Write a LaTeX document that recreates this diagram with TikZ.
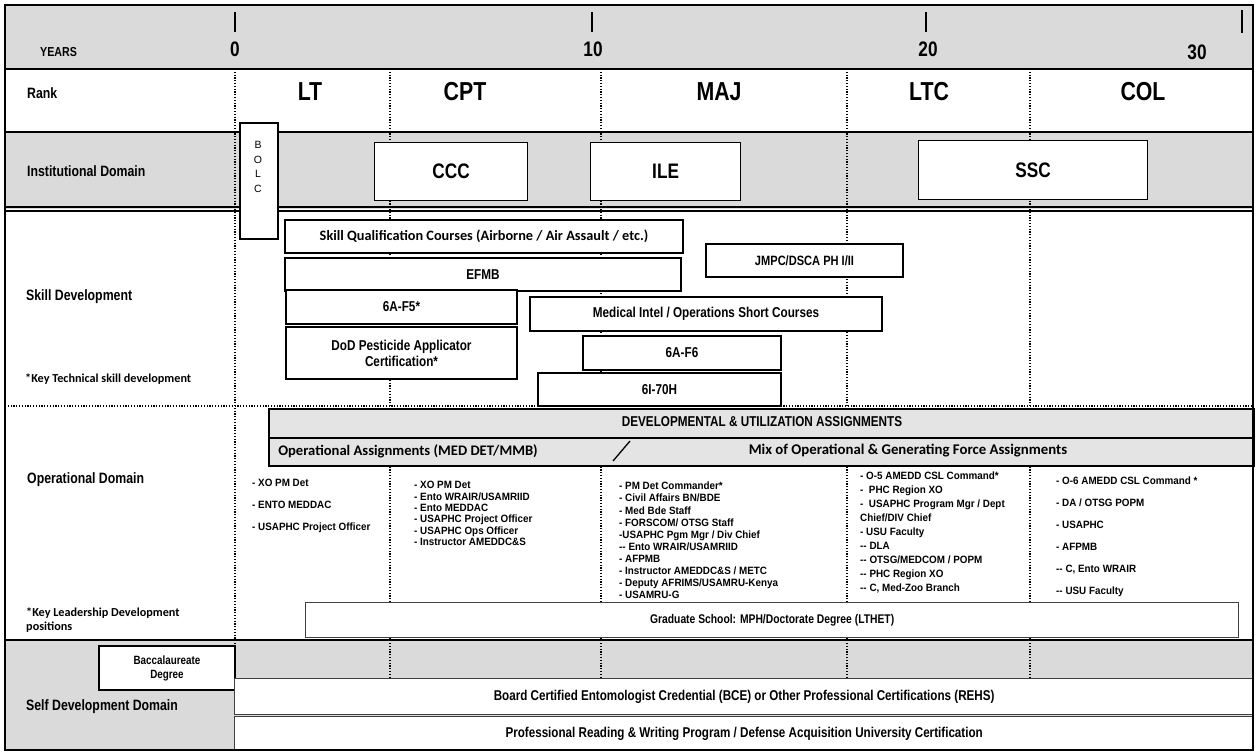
\documentclass[tikz,border=0pt]{standalone}
\usepackage{fontspec}
\setmainfont{Liberation Sans}
\newfontfamily\narrow[FakeStretch=0.82]{Liberation Sans}
\newfontfamily\listfont[FakeStretch=0.93]{Liberation Sans}
\newfontfamily\calib{Carlito}
\definecolor{rowg}{RGB}{218,218,218}
\definecolor{barg}{RGB}{228,228,228}

\begin{document}
\begin{tikzpicture}[x=1pt,y=-1pt,
   rowlabel/.style={anchor=west,inner sep=0,font=\narrow\bfseries\fontsize{15}{17}\selectfont},
   keynote/.style={anchor=west,inner sep=0,align=left,font=\calib\bfseries\fontsize{12.2}{14}\selectfont},
   yearnum/.style={inner sep=0,font=\narrow\bfseries\fontsize{21}{23}\selectfont},
   rankname/.style={inner sep=0,font=\narrow\bfseries\fontsize{26}{28}\selectfont},
   school/.style={draw,fill=white,line width=1.2pt,anchor=north west,inner sep=0,
                  font=\narrow\bfseries\fontsize{21}{23}\selectfont},
   skillbox/.style={draw,fill=white,line width=2pt,anchor=north west,inner sep=0,align=center,
                    font=\narrow\bfseries\fontsize{14.3}{16}\selectfont},
   assignbar/.style={draw,fill=barg,line width=2pt,anchor=north west,inner sep=0},
   bartext/.style={inner sep=0,font=\narrow\bfseries\fontsize{14.3}{16}\selectfont},
   duty/.style={anchor=north west,inner sep=0,align=left},
   selfbox/.style={draw=black!75,fill=white,line width=1.3pt,anchor=north west,inner sep=0,
                   font=\narrow\bfseries\fontsize{14.2}{16}\selectfont},
   rowline/.style={line width=2.2pt},
   dotline/.style={line width=1.8pt,dash pattern=on 1.2pt off 1.6pt},
   tick/.style={line width=1.8pt}]

\useasboundingbox (0,0) rectangle (1258,753);

\fill[rowg] (5,5) rectangle (1253,69);
\fill[rowg] (5,132) rectangle (1253,209);
\fill[rowg] (5,641) rectangle (1253,750);

\draw[dotline] (235,69) -- (235,678)
               (390,69) -- (390,678)
               (601,69) -- (601,678)
               (847,69) -- (847,678)
               (1030,69) -- (1030,678);
\draw[rowline] (5,69) -- (1253,69);
\draw[rowline] (5,132) -- (1253,132);
\draw[line width=1.4pt] (5,207) -- (1253,207) (5,211) -- (1253,211);
\draw[dotline] (5,406) -- (1253,406);
\draw[rowline] (5,640) -- (1253,640);

\node[rowlabel,font=\narrow\bfseries\fontsize{13}{15}\selectfont] (years) at (40,52) {YEARS};
\node[rowlabel] (rank) at (27,93) {Rank};
\node[rowlabel] (inst) at (27,171) {Institutional Domain};
\node[rowlabel] (skill) at (26,297) {Skill Development};
\node[keynote] (keytech) at (25,379) {*Key Technical skill development};
\node[rowlabel] (opdom) at (27,480) {Operational Domain};
\node[keynote] (keylead) at (26,620) {*Key Leadership Development\\positions};
\node[rowlabel] (selfdom) at (26,707) {Self Development Domain};

\node[yearnum] (y0) at (235,49) {0};
\node[yearnum] (y10) at (593,49) {10};
\node[yearnum] (y20) at (928,49) {20};
\node[yearnum] (y30) at (1197,52) {30};
\draw[tick] (235,12) -- (235,32) (592,12) -- (592,32) (926,12) -- (926,32) (1242,10) -- (1242,33);

\node[rankname] (lt) at (310,92) {LT};
\node[rankname] (cpt) at (465,92) {CPT};
\node[rankname] (maj) at (719,92) {MAJ};
\node[rankname] (ltc) at (929,92) {LTC};
\node[rankname] (col) at (1143,92) {COL};

\node[school,line width=2pt,minimum width=38pt,minimum height=116pt] (bolc) at (239,122) {};
\node[align=center,inner sep=0,font=\fontsize{10.5}{14.5}\selectfont] (bolcname) at (258,167) {B\\O\\L\\C};
\node[school,minimum width=153pt,minimum height=58pt] (ccc) at (374,142) {CCC};
\node[school,minimum width=150pt,minimum height=58pt] (ile) at (590,142) {ILE};
\node[school,minimum width=229pt,minimum height=59pt] (ssc) at (918,140) {SSC};

\node[skillbox,minimum width=398pt,minimum height=33pt,font=\calib\bfseries\fontsize{14.3}{16}\selectfont] (sqc) at (284,219) {Skill Qualification Courses (Airborne / Air Assault / etc.)};
\node[skillbox,minimum width=396pt,minimum height=33pt] (efmb) at (284,257) {EFMB};
\node[skillbox,minimum width=197pt,minimum height=33pt,font=\narrow\bfseries\fontsize{13.5}{15}\selectfont] (jmpc) at (705,243) {JMPC/DSCA PH I/II};
\node[skillbox,minimum width=231pt,minimum height=34pt] (af5) at (285,289) {6A-F5*};
\node[skillbox,minimum width=352pt,minimum height=34pt] (medint) at (529,296) {Medical Intel / Operations Short Courses};
\node[skillbox,minimum width=231pt,minimum height=52pt] (pest) at (285,326) {DoD Pesticide Applicator\\Certification*};
\node[skillbox,minimum width=198pt,minimum height=34pt] (af6) at (582,335) {6A-F6};
\node[skillbox,minimum width=243pt,minimum height=33pt] (i70h) at (537,372) {6I-70H};

\node[assignbar,minimum width=985pt,minimum height=29pt] (devbar) at (268,408) {};
\node[assignbar,minimum width=985pt,minimum height=28pt] (opbar) at (268,437) {};
\node[bartext] (devtext) at (762,422) {DEVELOPMENTAL \& UTILIZATION ASSIGNMENTS};
\node[bartext,font=\calib\bfseries\fontsize{14.6}{16}\selectfont] (optext) at (408,451) {Operational Assignments (MED DET/MMB)};
\node[bartext,font=\calib\bfseries\fontsize{14.8}{16}\selectfont] (mixtext) at (908,451) {Mix of Operational \& Generating Force Assignments};
\coordinate (slashlow) at (613,461);
\coordinate (slashtop) at (630,441);
\draw[line width=1.3pt] (slashlow) -- (slashtop);

\node[duty,font=\listfont\bfseries\fontsize{10.6}{22}\selectfont] (ltjobs) at (252,479)
   {- XO PM Det\\- ENTO MEDDAC\\- USAPHC Project Officer};
\node[duty,font=\listfont\bfseries\fontsize{10.6}{11.4}\selectfont] (cptjobs) at (414,481)
   {- XO PM Det\\- Ento WRAIR/USAMRIID\\- Ento MEDDAC\\- USAPHC Project Officer\\- USAPHC Ops Officer\\- Instructor AMEDDC\&S};
\node[duty,font=\listfont\bfseries\fontsize{10.6}{12.1}\selectfont] (majjobs) at (619,482)
   {- PM Det Commander*\\- Civil Affairs BN/BDE\\- Med Bde Staff\\- FORSCOM/ OTSG Staff\\-USAPHC Pgm Mgr / Div Chief\\-{}- Ento WRAIR/USAMRIID\\- AFPMB\\- Instructor AMEDDC\&S / METC\\- Deputy AFRIMS/USAMRU-Kenya\\- USAMRU-G};
\node[duty,font=\listfont\bfseries\fontsize{10.6}{14}\selectfont] (ltcjobs) at (860,472)
   {- O-5 AMEDD CSL Command*\\-\ \ PHC Region XO\\-\ \ USAPHC Program Mgr / Dept\\Chief/DIV Chief\\- USU Faculty\\-{}- DLA\\-{}- OTSG/MEDCOM / POPM\\-{}- PHC Region XO\\-{}- C, Med-Zoo Branch};
\node[duty,font=\listfont\bfseries\fontsize{10.6}{22}\selectfont] (coljobs) at (1056,477)
   {- O-6 AMEDD CSL Command *\\- DA / OTSG POPM\\- USAPHC\\- AFPMB\\-{}- C, Ento WRAIR\\-{}- USU Faculty};

\node[selfbox,minimum width=933pt,minimum height=35pt,font=\narrow\bfseries\fontsize{12.6}{14}\selectfont] (grad) at (305,602) {Graduate School: MPH/Doctorate Degree (LTHET)};
\node[selfbox,draw=black,line width=2pt,minimum width=136pt,minimum height=44pt,align=center,
      font=\narrow\bfseries\fontsize{12}{14}\selectfont] (bacc) at (98,645) {Baccalaureate\\Degree};
\node[selfbox,minimum width=1019pt,minimum height=36pt] (bce) at (234,678) {Board Certified Entomologist Credential (BCE) or Other Professional Certifications (REHS)};
\node[selfbox,minimum width=1019pt,minimum height=34pt] (prw) at (234,716) {Professional Reading \& Writing Program / Defense Acquisition University Certification};

\draw[line width=2.6pt] (5,5) rectangle (1253,750);
\end{tikzpicture}
\end{document}
